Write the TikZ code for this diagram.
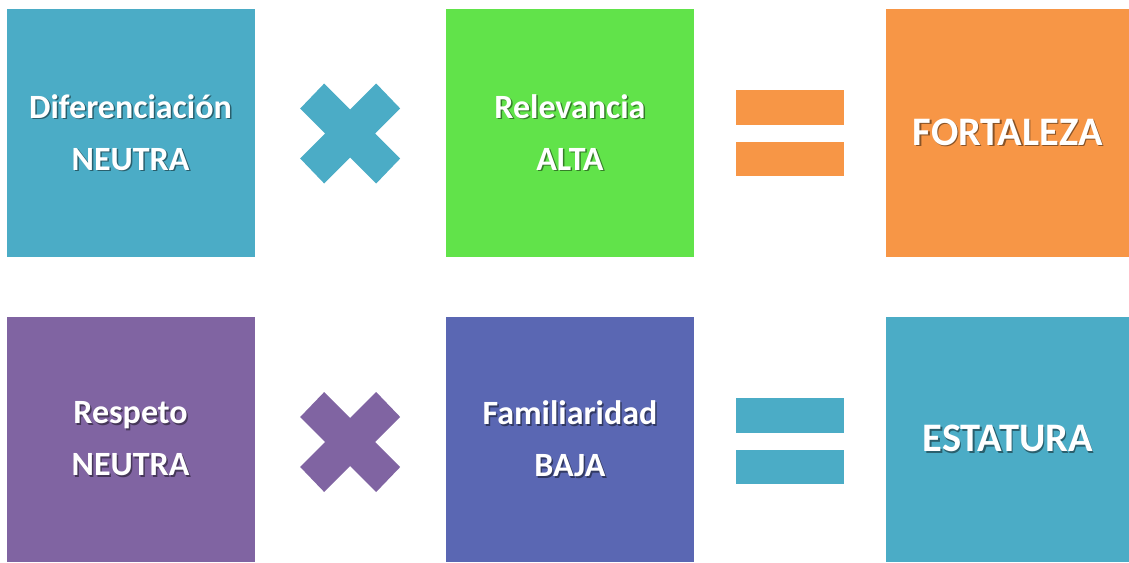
\documentclass[tikz,border=0pt]{standalone}
\usepackage{fontspec}
\setmainfont{Carlito}
\usepackage{tikz}
\usetikzlibrary{calc,positioning}

% white text with a soft drop shadow
\newcommand{\shtxt}[2]{\makebox[0pt][l]{\hspace{1.5pt}\raisebox{-1.5pt}{\textcolor{#1}{#2}}}#2}

\begin{document}
\begin{tikzpicture}[x=1pt,y=-1pt,font=\bfseries,
    tile/.style={fill=#1,draw=none,inner sep=0pt,text=white,align=center,
                 minimum width=248pt,minimum height=248pt},
    pair/.style={font=\fontsize{34}{52}\bfseries\selectfont},
    result/.style={font=\fontsize{40.5}{48}\bfseries\selectfont}]
            %--- Theme colors ---
            \definecolor{TileBlue}{HTML}{4BACC6}     % diferenciacion / estatura
            \definecolor{TileGreen}{HTML}{61E34A}    % relevancia
            \definecolor{TileOrange}{HTML}{F79646}   % fortaleza
            \definecolor{TilePurple}{HTML}{8064A2}   % respeto
            \definecolor{TileIndigo}{HTML}{5A67B3}   % familiaridad

            \useasboundingbox (0,0) rectangle (1129,562);

            %--- Top row ---
            \node[tile=TileBlue,pair] (dif) at (130.5,133)
              {\shtxt{TileBlue!55!black}{Diferenciación}\\\shtxt{TileBlue!55!black}{NEUTRA}};
            \node[tile=TileGreen,pair,right=191pt of dif] (rel)
              {\shtxt{TileGreen!55!black}{Relevancia}\\\shtxt{TileGreen!55!black}{ALTA}};
            \node[tile=TileOrange,result,minimum width=243pt,anchor=west] (fort) at (886,133)
              {\shtxt{TileOrange!55!black}{FORTALEZA}};

            %--- Bottom row ---
            \node[tile=TilePurple,pair,minimum height=245pt] (resp) at (130.5,439.5)
              {\shtxt{TilePurple!55!black}{Respeto}\\\shtxt{TilePurple!55!black}{NEUTRA}};
            \node[tile=TileIndigo,pair,minimum height=245pt,right=191pt of resp] (fam)
              {\shtxt{TileIndigo!55!black}{Familiaridad}\\\shtxt{TileIndigo!55!black}{BAJA}};
            \node[tile=TileBlue,result,minimum width=243pt,minimum height=245pt,anchor=west] (est) at (886,439.5)
              {\shtxt{TileBlue!55!black}{ESTATURA}};

            %--- Times signs ---
            \foreach \a/\b/\col/\dy in {dif/rel/TileBlue/0.5, resp/fam/TilePurple/2.5}{
              \fill[\col] ($(\a.east)!0.5!(\b.west)+(0,\dy)$) ++(-50,-25) -- ++(24,-25) -- ++(26,26)
                -- ++(26,-26) -- ++(24,25) -- ++(-25,25) -- ++(25,25) -- ++(-24,25)
                -- ++(-26,-26) -- ++(-26,26) -- ++(-24,-25) -- ++(25,-25) -- cycle;
            }

            %--- Equals signs ---
            \foreach \a/\b/\col/\dy in {rel/fort/TileOrange/0, fam/est/TileBlue/1.5}{
              \coordinate (m) at ($(\a.east)!0.5!(\b.west)+(0,\dy)$);
              \fill[\col] ($(m)+(-54,-43)$) rectangle ($(m)+(54,-8)$);
              \fill[\col] ($(m)+(-54,9)$) rectangle ($(m)+(54,43)$);
            }
          \end{tikzpicture}
\end{document}
